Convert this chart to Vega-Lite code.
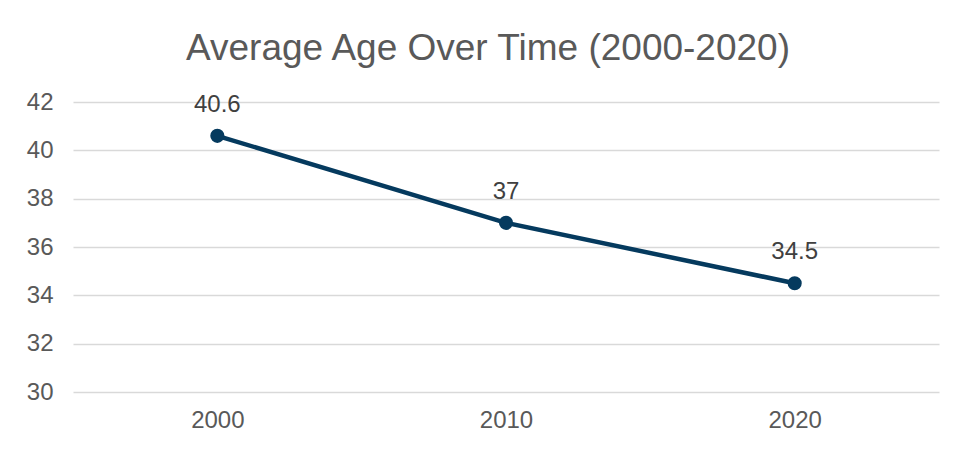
{
  "$schema": "https://vega.github.io/schema/vega-lite/v6.json",
  "autosize": {"type": "none"},
  "padding": {"left": 73, "top": 102, "right": 19, "bottom": 57},
  "width": 866,
  "height": 290,
  "background": "white",
  "title": {
    "text": "Average Age Over Time (2000-2020)",
    "anchor": "middle",
    "frame": "group",
    "font": "Liberation Sans",
    "fontSize": 37,
    "fontWeight": "normal",
    "color": "#595959",
    "dx": -18,
    "offset": 22
  },
  "config": {
    "view": {"stroke": null},
    "font": "Liberation Sans"
  },
  "data": {
    "values": [
      {"year": "2000", "age": 40.6},
      {"year": "2010", "age": 37},
      {"year": "2020", "age": 34.5}
    ]
  },
  "encoding": {
    "x": {
      "field": "year",
      "type": "ordinal",
      "scale": {"type": "point", "padding": 0.5},
      "axis": {
        "title": null,
        "labelAngle": 0,
        "labelFontSize": 24,
        "labelColor": "#595959",
        "labelPadding": 16,
        "domain": false,
        "ticks": false,
        "grid": false
      }
    },
    "y": {
      "field": "age",
      "type": "quantitative",
      "scale": {"domain": [30, 42], "nice": false, "zero": false},
      "axis": {
        "title": null,
        "values": [30, 32, 34, 36, 38, 40, 42],
        "labelFontSize": 24,
        "labelColor": "#595959",
        "labelPadding": 20,
        "domain": false,
        "ticks": false,
        "gridColor": "#D9D9D9",
        "gridWidth": 1.5
      }
    }
  },
  "layer": [
    {
      "mark": {"type": "line", "color": "#053a5e", "strokeWidth": 4.5}
    },
    {
      "mark": {"type": "point", "filled": true, "opacity": 1, "color": "#053a5e", "size": 200}
    },
    {
      "mark": {"type": "text", "baseline": "alphabetic", "dy": -24, "fontSize": 24, "color": "#404040"},
      "encoding": {"text": {"field": "age", "type": "quantitative"}}
    }
  ]
}
